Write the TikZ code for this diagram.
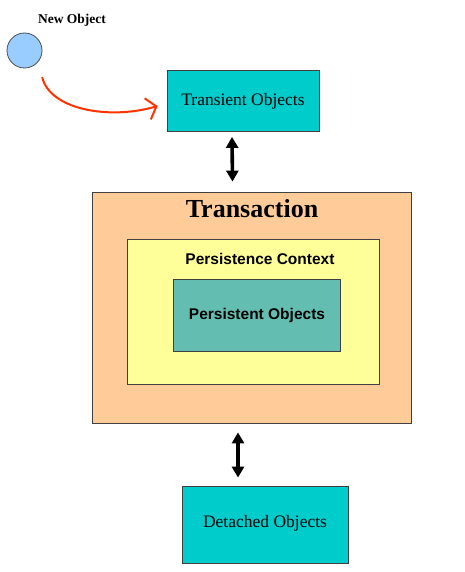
\documentclass[tikz,border=0pt]{standalone}
\usepackage{fontspec}
\setmainfont{Liberation Serif}
\newfontfamily\arialfont{Liberation Sans}
\usetikzlibrary{arrows.meta, positioning}
\definecolor{objcyan}{RGB}{0,204,204}
\definecolor{txpeach}{RGB}{255,204,153}
\definecolor{ctxyellow}{RGB}{255,255,153}
\definecolor{persteal}{RGB}{99,190,177}
\definecolor{newblue}{RGB}{153,204,255}
\definecolor{curvered}{RGB}{255,51,0}
\tikzstyle{box} = [draw=black!75, line width=0.8pt, rectangle, inner sep=0pt]
\tikzstyle{objects} = [box, fill=objcyan, font=\fontsize{17.5}{20}\selectfont]
\tikzstyle{title} = [font=\fontsize{26}{30}\selectfont\bfseries, inner sep=0pt]
\tikzstyle{label} = [font=\arialfont\fontsize{15.5}{18}\selectfont\bfseries, inner sep=0pt]
\tikzstyle{both} = [
    {Triangle[length=11pt, width=12pt]}-{Triangle[length=11pt, width=12pt]},
    line width=3.6pt
]
\tikzstyle{move} = [-{Straight Barb[length=9pt, width=22pt]}, line width=2pt, draw=curvered]

\begin{document}
\begin{tikzpicture}[x=1pt, y=-1pt]
    \useasboundingbox (0, 0) rectangle (465, 572);

    % Nodes.
    \node (new object) [draw=black!70, line width=0.8pt, circle, minimum size=35pt, inner sep=0pt, fill=newblue] at (24.5, 50.5) {};
    \node (new label) [font=\fontsize{13.5}{16}\selectfont\bfseries, inner sep=0pt] at (72, 20) {New Object};

    \node (transient) [objects, minimum width=152pt, minimum height=61pt] at (243, 101) {Transient Objects};

    \node (transaction) [box, fill=txpeach, minimum width=319pt, minimum height=231pt] at (252, 307.5) {};
    \node (transaction label) [title] at (252, 209) {Transaction};

    \node (context) [box, fill=ctxyellow, minimum width=252pt, minimum height=145pt] at (253, 311.5) {};
    \node (context label) [label] at (260, 259) {Persistence Context};

    \node (persistent) [box, fill=persteal, minimum width=167pt, minimum height=72pt, font=\arialfont\fontsize{15.5}{18}\selectfont\bfseries] at (257, 315) {Persistent Objects};

    \node (detached) [objects, minimum width=166pt, minimum height=77pt, text depth=6pt] at (265, 524.5) {Detached Objects};

    % Paths.
    \draw [move] ([shift={(5pt, -14pt)}]new object.south east)
        .. controls (50, 110) and (110, 120) .. ([shift={(-9pt, -5pt)}]transient.west);

    \draw [both] ([shift={(-11pt, -5pt)}]transient.south) -- ([shift={(-19.5pt, 10pt)}]transaction.north);
    \draw [both] ([shift={(-14pt, -9pt)}]transaction.south) -- ([shift={(-27pt, 8pt)}]detached.north);
\end{tikzpicture}
\end{document}
